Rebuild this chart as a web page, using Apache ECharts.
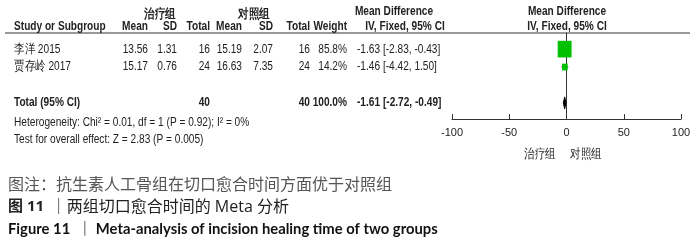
<!DOCTYPE html>
<html><head><meta charset="utf-8">
<script src="https://cdn.jsdelivr.net/npm/echarts@6/dist/echarts.min.js"></script>
<style>html,body{margin:0;padding:0;background:#fff}#c{width:700px;height:247px}</style>
</head><body><div id="c"></div>
<script>
// ---- data ----
const studies = ['李洋 2015', '贾存岭 2017'];
const trtMean = [13.56, 15.17];
const trtSD = [1.31, 0.76];
const trtN = [16, 24];
const ctlMean = [15.19, 16.63];
const ctlSD = [2.07, 7.35];
const ctlN = [16, 24];
const weight = [85.8, 14.2];
const md = [-1.63, -1.46];
const ciLo = [-2.83, -4.42];
const ciHi = [-0.43, 1.50];
const totalLabel = 'Total (95% CI)';
const totalN = [40, 40];
const totalWeight = 100.0;
const totalMd = -1.61, totalLo = -2.72, totalHi = -0.49;
const xTicks = [-100, -50, 0, 50, 100];
const heterogeneity = 'Heterogeneity: Chi² = 0.01, df = 1 (P = 0.92); I² = 0%';
const overallTest = 'Test for overall effect: Z = 2.83 (P = 0.005)';
const groupNames = ['治疗组', '对照组'];
const captions = ['图注：抗生素人工骨组在切口愈合时间方面优于对照组', '图 11', '两组切口愈合时间的 Meta 分析', 'Figure 11', 'Meta-analysis of incision healing time of two groups'];

// ---- layout ----
const NARROW = '"Liberation Sans",Arial,sans-serif';
const SX = 0.81;
const TXT = '#222';
const colRight = { m1: 148, s1: 177, n1: 210, m2: 242, s2: 273, n2: 310, w: 347 };
const colStudy = 14, colMD = 357;
const fmt2 = v => v.toFixed(2);
const ciText = (m, l, h) => fmt2(m) + ' [' + fmt2(l) + ', ' + fmt2(h) + ']';

const rows = studies.map((s, i) => ({ value: [md[i], i + 1, ciLo[i], ciHi[i], weight[i], i] }));
const totalRow = [{ value: [totalMd, 4, totalLo, totalHi] }];

function txt(x, y, s, opt) {
  return { type: 'text', x: x, y: y, scaleX: SX, silent: true,
    style: Object.assign({ text: s, fill: TXT, font: '12.5px ' + NARROW, textVerticalAlign: 'middle', textAlign: 'left' }, opt || {}) };
}

function renderStudy(params, api) {
  const i = api.value(5);
  const c = api.coord([api.value(0), api.value(1)]);
  const l = api.coord([api.value(2), api.value(1)]);
  const h = api.coord([api.value(3), api.value(1)]);
  const side = Math.sqrt(api.value(4)) * 1.5;
  const y = c[1];
  const children = [
    { type: 'line', shape: { x1: l[0], y1: y, x2: h[0], y2: y }, style: { stroke: '#000', lineWidth: 1 } },
    { type: 'rect', shape: { x: c[0] - side / 2, y: y - side * 0.6, width: side, height: side * 1.2 }, style: { fill: '#00c000' } },
    txt(colStudy, y, studies[i]),
    txt(colRight.m1, y, fmt2(trtMean[i]), { textAlign: 'right' }),
    txt(colRight.s1, y, fmt2(trtSD[i]), { textAlign: 'right' }),
    txt(colRight.n1, y, String(trtN[i]), { textAlign: 'right' }),
    txt(colRight.m2, y, fmt2(ctlMean[i]), { textAlign: 'right' }),
    txt(colRight.s2, y, fmt2(ctlSD[i]), { textAlign: 'right' }),
    txt(colRight.n2, y, String(ctlN[i]), { textAlign: 'right' }),
    txt(colRight.w, y, weight[i].toFixed(1) + '%', { textAlign: 'right' }),
    txt(colMD, y, ciText(md[i], ciLo[i], ciHi[i]))
  ];
  return { type: 'group', children: children };
}

function renderTotal(params, api) {
  const c = api.coord([api.value(0), api.value(1)]);
  const l = api.coord([api.value(2), api.value(1)]);
  const h = api.coord([api.value(3), api.value(1)]);
  const y = c[1];
  const bold = { font: 'bold 12.5px ' + NARROW };
  return { type: 'group', children: [
    { type: 'polygon', shape: { points: [[l[0], y], [c[0], y - 6], [h[0], y], [c[0], y + 6]] }, style: { fill: '#000', stroke: '#000', lineWidth: 1 } },
    txt(colStudy, y, totalLabel, bold),
    txt(colRight.n1, y, String(totalN[0]), Object.assign({ textAlign: 'right' }, bold)),
    txt(colRight.n2, y, String(totalN[1]), Object.assign({ textAlign: 'right' }, bold)),
    txt(colRight.w, y, totalWeight.toFixed(1) + '%', Object.assign({ textAlign: 'right' }, bold)),
    txt(colMD, y, ciText(totalMd, totalLo, totalHi), bold)
  ] };
}

const chart = echarts.init(document.getElementById('c'), null, { renderer: 'canvas' });
const boldH = { font: 'bold 12.5px ' + NARROW };
chart.setOption({
  animation: false,
  backgroundColor: '#fff',
  grid: { left: 452, right: 19, top: 33, bottom: 128 },
  xAxis: {
    type: 'value', min: xTicks[0], max: xTicks[xTicks.length - 1], interval: 50,
    axisLine: { lineStyle: { color: '#333', width: 1 } },
    axisTick: { inside: true, length: 5, lineStyle: { color: '#333' } },
    axisLabel: { color: '#222', fontSize: 11, fontFamily: NARROW, margin: 8 },
    splitLine: { show: false }
  },
  yAxis: {
    type: 'value', inverse: true, min: 0.1, max: 4.9,
    axisLine: { show: true, onZero: true, lineStyle: { color: '#333', width: 1 } },
    axisTick: { show: false }, axisLabel: { show: false }, splitLine: { show: false }
  },
  series: [
    { type: 'custom', renderItem: renderStudy, data: rows, clip: false, silent: true },
    { type: 'custom', renderItem: renderTotal, data: totalRow, clip: false, silent: true }
  ],
  graphic: [
    { type: 'line', shape: { x1: 5, y1: 33, x2: 690, y2: 33 }, style: { stroke: '#333', lineWidth: 1 }, silent: true },
    txt(160, 15, groupNames[0], Object.assign({ textAlign: 'center' }, boldH)),
    txt(254, 15, groupNames[1], Object.assign({ textAlign: 'center' }, boldH)),
    txt(colStudy, 27, 'Study or Subgroup', boldH),
    txt(colRight.m1, 27, 'Mean', Object.assign({ textAlign: 'right' }, boldH)),
    txt(colRight.s1, 27, 'SD', Object.assign({ textAlign: 'right' }, boldH)),
    txt(colRight.n1, 27, 'Total', Object.assign({ textAlign: 'right' }, boldH)),
    txt(colRight.m2, 27, 'Mean', Object.assign({ textAlign: 'right' }, boldH)),
    txt(colRight.s2, 27, 'SD', Object.assign({ textAlign: 'right' }, boldH)),
    txt(colRight.n2, 27, 'Total', Object.assign({ textAlign: 'right' }, boldH)),
    txt(colRight.w, 27, 'Weight', Object.assign({ textAlign: 'right' }, boldH)),
    txt(394, 12, 'Mean Difference', Object.assign({ textAlign: 'center' }, boldH)),
    txt(405, 27, 'IV, Fixed, 95% CI', Object.assign({ textAlign: 'center' }, boldH)),
    txt(567, 12, 'Mean Difference', Object.assign({ textAlign: 'center' }, boldH)),
    txt(567, 27, 'IV, Fixed, 95% CI', Object.assign({ textAlign: 'center' }, boldH)),
    txt(colStudy, 123, heterogeneity),
    txt(colStudy, 140, overallTest),
    txt(540, 154, groupNames[0], { textAlign: 'center', font: '13px ' + NARROW }),
    txt(586, 154, groupNames[1], { textAlign: 'center', font: '13px ' + NARROW }),
    { type: 'text', x: 8, y: 184, silent: true, style: { text: captions[0], textVerticalAlign: 'middle',
        font: '16px "Noto Sans CJK SC",sans-serif', fill: '#555' } },
    { type: 'text', x: 8, y: 207, silent: true, style: {
        text: '{b|' + captions[1] + '}  {n|｜' + captions[2] + '}', textVerticalAlign: 'middle',
        rich: { b: { fontWeight: 'bold', fontSize: 15, fontFamily: '"Open Sans","Noto Sans CJK SC",sans-serif', fill: '#222' },
                n: { fontSize: 16, fontFamily: '"Open Sans","Noto Sans CJK SC",sans-serif', fill: '#222' } } } },
    { type: 'text', x: 8, y: 229, silent: true, style: {
        text: captions[3] + '  ｜ ' + captions[4], textVerticalAlign: 'middle',
        font: 'bold 14.8px Lato,"Noto Sans CJK SC",sans-serif', fill: '#111' } }
  ]
});
</script></body></html>
